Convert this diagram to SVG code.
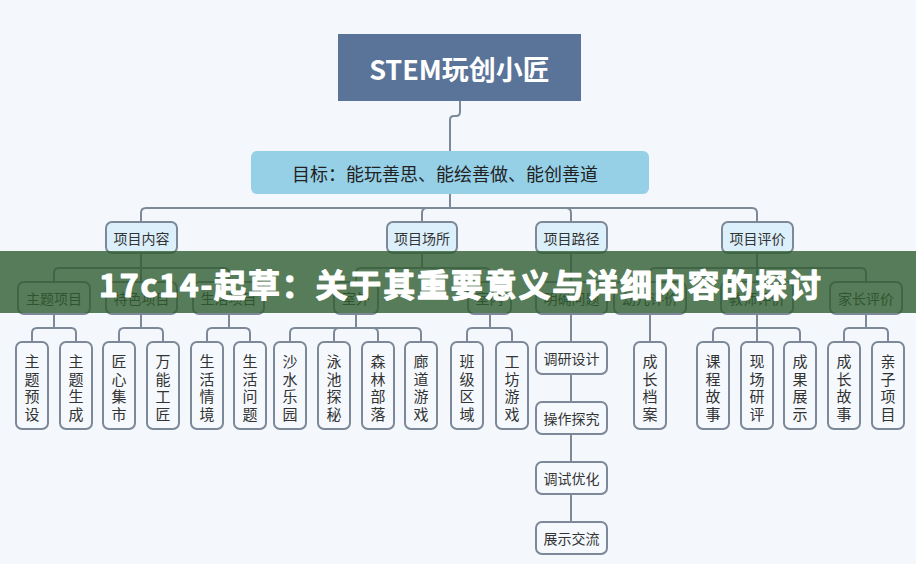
<svg xmlns="http://www.w3.org/2000/svg" width="916" height="564" viewBox="0 0 916 564">
<style>
text{font-family:"Noto Sans CJK SC","Noto Sans",sans-serif;fill:#333;}
.n rect{fill:#f5f9fd;stroke:#7d8898;stroke-width:2;}
.l1 rect{fill:#dcf0fb;}
.t14{font-size:14px;text-anchor:middle;dominant-baseline:central;}
.v{font-size:15px;text-anchor:middle;dominant-baseline:central;}
.c path{fill:none;stroke:#7d8898;stroke-width:2;}
</style>
<rect width="916" height="564" fill="#f4f8fc"/>
<g class="c" id="connectors">
<path d="M460,101 V112 Q460,116 456,116 H454 Q450,116 450,120 V151"/>
<path d="M450,194 V208 H146 Q141,208 141,213 V222"/>
<path d="M450,194 V208 H427 Q422,208 422,213 V222"/>
<path d="M450,194 V208 H566 Q571,208 571,213 V222"/>
<path d="M450,194 V208 H752 Q757,208 757,213 V222"/>
<path d="M141,253 V268 H59 Q54,268 54,273 V282"/>
<path d="M141,253 V282"/>
<path d="M141,253 V268 H224 Q229,268 229,273 V282"/>
<path d="M422,253 V268 H361 Q356,268 356,273 V282"/>
<path d="M422,253 V268 H485 Q490,268 490,273 V282"/>
<path d="M571,253 V282"/>
<path d="M757,253 V268 H655 Q650,268 650,273 V282"/>
<path d="M757,253 V282"/>
<path d="M757,253 V268 H861 Q866,268 866,273 V282"/>
<path d="M54,314 V328 H37 Q32,328 32,333 V342"/>
<path d="M54,314 V328 H71 Q76,328 76,333 V342"/>
<path d="M141,314 V328 H124 Q119,328 119,333 V342"/>
<path d="M141,314 V328 H158 Q163,328 163,333 V342"/>
<path d="M229,314 V328 H212 Q207,328 207,333 V342"/>
<path d="M229,314 V328 H245 Q250,328 250,333 V342"/>
<path d="M356,314 V328 H295 Q290,328 290,333 V342"/>
<path d="M356,314 V328 H339 Q334,328 334,333 V342"/>
<path d="M356,314 V328 H373 Q378,328 378,333 V342"/>
<path d="M356,314 V328 H416 Q421,328 421,333 V342"/>
<path d="M490,314 V328 H472 Q467,328 467,333 V342"/>
<path d="M490,314 V328 H507 Q512,328 512,333 V342"/>
<path d="M571,314 V342"/>
<path d="M571,374 V402"/>
<path d="M571,434 V462"/>
<path d="M571,494 V522"/>
<path d="M650,314 V342"/>
<path d="M757,314 V328 H718 Q713,328 713,333 V342"/>
<path d="M757,314 V342"/>
<path d="M757,314 V328 H795 Q800,328 800,333 V342"/>
<path d="M866,314 V328 H849 Q844,328 844,333 V342"/>
<path d="M866,314 V328 H883 Q888,328 888,333 V342"/>
</g>
<g id="root"><rect x="338" y="34" width="243" height="67" fill="#5a7399"/><text x="459.5" y="68" font-size="27" font-weight="bold" text-anchor="middle" dominant-baseline="central" style="fill:#fff">STEM玩创小匠</text></g>
<g id="goal"><rect x="251" y="151" width="398" height="43" rx="6" fill="#95d0e7"/><text x="445" y="172.5" font-size="18" text-anchor="middle" dominant-baseline="central" style="fill:#222">目标：能玩善思、能绘善做、能创善道</text></g>
<g id="n-xmnr" class="n l1"><rect x="106" y="222" width="71" height="31" rx="6"/><text class="t14" x="141.5" y="237.5">项目内容</text></g>
<g id="n-xmcs" class="n l1"><rect x="387" y="222" width="70" height="31" rx="6"/><text class="t14" x="422" y="237.5">项目场所</text></g>
<g id="n-xmlj" class="n l1"><rect x="536" y="222" width="71" height="31" rx="6"/><text class="t14" x="571.5" y="237.5">项目路径</text></g>
<g id="n-xmpj" class="n l1"><rect x="722" y="222" width="71" height="31" rx="6"/><text class="t14" x="757.5" y="237.5">项目评价</text></g>
<g id="n-ztxm" class="n"><rect x="18" y="282" width="72" height="32" rx="6"/><text class="t14" x="54" y="298">主题项目</text></g>
<g id="n-tsxm" class="n"><rect x="106" y="282" width="71" height="32" rx="6"/><text class="t14" x="141.5" y="298">特色项目</text></g>
<g id="n-shxm" class="n"><rect x="193" y="282" width="71" height="32" rx="6"/><text class="t14" x="228.5" y="298">生活项目</text></g>
<g id="n-sw" class="n"><rect x="334" y="282" width="44" height="32" rx="6"/><text class="t14" x="356" y="298">室外</text></g>
<g id="n-sn" class="n"><rect x="468" y="282" width="43" height="32" rx="6"/><text class="t14" x="489.5" y="298">室内</text></g>
<g id="n-mqwt" class="n"><rect x="536" y="282" width="71" height="32" rx="6"/><text class="t14" x="571.5" y="298">明确问题</text></g>
<g id="n-yepj" class="n"><rect x="614" y="282" width="72" height="32" rx="6"/><text class="t14" x="650" y="298">幼儿评价</text></g>
<g id="n-jspj" class="n"><rect x="721" y="282" width="72" height="32" rx="6"/><text class="t14" x="757" y="298">教师评价</text></g>
<g id="n-jzpj" class="n"><rect x="830" y="282" width="72" height="32" rx="6"/><text class="t14" x="866" y="298">家长评价</text></g>
<g id="n-dysj" class="n"><rect x="536" y="342" width="71" height="32" rx="6"/><text class="t14" x="571.5" y="358">调研设计</text></g>
<g id="n-czta" class="n"><rect x="536" y="402" width="71" height="32" rx="6"/><text class="t14" x="571.5" y="418">操作探究</text></g>
<g id="n-dsyh" class="n"><rect x="536" y="462" width="71" height="32" rx="6"/><text class="t14" x="571.5" y="478">调试优化</text></g>
<g id="n-zsjl" class="n"><rect x="536" y="522" width="71" height="32" rx="6"/><text class="t14" x="571.5" y="538">展示交流</text></g>
<g id="n-v1" class="n"><rect x="16" y="342" width="32" height="87" rx="6"/><text class="v"><tspan x="32" y="360">主</tspan><tspan x="32" y="377.7">题</tspan><tspan x="32" y="395.3">预</tspan><tspan x="32" y="413">设</tspan></text></g>
<g id="n-v2" class="n"><rect x="60" y="342" width="32" height="87" rx="6"/><text class="v"><tspan x="76" y="360">主</tspan><tspan x="76" y="377.7">题</tspan><tspan x="76" y="395.3">生</tspan><tspan x="76" y="413">成</tspan></text></g>
<g id="n-v3" class="n"><rect x="103" y="342" width="32" height="87" rx="6"/><text class="v"><tspan x="119" y="360">匠</tspan><tspan x="119" y="377.7">心</tspan><tspan x="119" y="395.3">集</tspan><tspan x="119" y="413">市</tspan></text></g>
<g id="n-v4" class="n"><rect x="147" y="342" width="32" height="87" rx="6"/><text class="v"><tspan x="163" y="360">万</tspan><tspan x="163" y="377.7">能</tspan><tspan x="163" y="395.3">工</tspan><tspan x="163" y="413">匠</tspan></text></g>
<g id="n-v5" class="n"><rect x="191" y="342" width="32" height="87" rx="6"/><text class="v"><tspan x="207" y="360">生</tspan><tspan x="207" y="377.7">活</tspan><tspan x="207" y="395.3">情</tspan><tspan x="207" y="413">境</tspan></text></g>
<g id="n-v6" class="n"><rect x="234" y="342" width="32" height="87" rx="6"/><text class="v"><tspan x="250" y="360">生</tspan><tspan x="250" y="377.7">活</tspan><tspan x="250" y="395.3">问</tspan><tspan x="250" y="413">题</tspan></text></g>
<g id="n-v7" class="n"><rect x="274" y="342" width="32" height="87" rx="6"/><text class="v"><tspan x="290" y="360">沙</tspan><tspan x="290" y="377.7">水</tspan><tspan x="290" y="395.3">乐</tspan><tspan x="290" y="413">园</tspan></text></g>
<g id="n-v8" class="n"><rect x="318" y="342" width="32" height="87" rx="6"/><text class="v"><tspan x="334" y="360">泳</tspan><tspan x="334" y="377.7">池</tspan><tspan x="334" y="395.3">探</tspan><tspan x="334" y="413">秘</tspan></text></g>
<g id="n-v9" class="n"><rect x="362" y="342" width="32" height="87" rx="6"/><text class="v"><tspan x="378" y="360">森</tspan><tspan x="378" y="377.7">林</tspan><tspan x="378" y="395.3">部</tspan><tspan x="378" y="413">落</tspan></text></g>
<g id="n-v10" class="n"><rect x="405" y="342" width="32" height="87" rx="6"/><text class="v"><tspan x="421" y="360">廊</tspan><tspan x="421" y="377.7">道</tspan><tspan x="421" y="395.3">游</tspan><tspan x="421" y="413">戏</tspan></text></g>
<g id="n-v11" class="n"><rect x="451" y="342" width="32" height="87" rx="6"/><text class="v"><tspan x="467" y="360">班</tspan><tspan x="467" y="377.7">级</tspan><tspan x="467" y="395.3">区</tspan><tspan x="467" y="413">域</tspan></text></g>
<g id="n-v12" class="n"><rect x="496" y="342" width="32" height="87" rx="6"/><text class="v"><tspan x="512" y="360">工</tspan><tspan x="512" y="377.7">坊</tspan><tspan x="512" y="395.3">游</tspan><tspan x="512" y="413">戏</tspan></text></g>
<g id="n-v13" class="n"><rect x="634" y="342" width="32" height="87" rx="6"/><text class="v"><tspan x="650" y="360">成</tspan><tspan x="650" y="377.7">长</tspan><tspan x="650" y="395.3">档</tspan><tspan x="650" y="413">案</tspan></text></g>
<g id="n-v14" class="n"><rect x="697" y="342" width="32" height="87" rx="6"/><text class="v"><tspan x="713" y="360">课</tspan><tspan x="713" y="377.7">程</tspan><tspan x="713" y="395.3">故</tspan><tspan x="713" y="413">事</tspan></text></g>
<g id="n-v15" class="n"><rect x="741" y="342" width="32" height="87" rx="6"/><text class="v"><tspan x="757" y="360">现</tspan><tspan x="757" y="377.7">场</tspan><tspan x="757" y="395.3">研</tspan><tspan x="757" y="413">评</tspan></text></g>
<g id="n-v16" class="n"><rect x="784" y="342" width="32" height="87" rx="6"/><text class="v"><tspan x="800" y="360">成</tspan><tspan x="800" y="377.7">果</tspan><tspan x="800" y="395.3">展</tspan><tspan x="800" y="413">示</tspan></text></g>
<g id="n-v17" class="n"><rect x="828" y="342" width="32" height="87" rx="6"/><text class="v"><tspan x="844" y="360">成</tspan><tspan x="844" y="377.7">长</tspan><tspan x="844" y="395.3">故</tspan><tspan x="844" y="413">事</tspan></text></g>
<g id="n-v18" class="n"><rect x="872" y="342" width="32" height="87" rx="6"/><text class="v"><tspan x="888" y="360">亲</tspan><tspan x="888" y="377.7">子</tspan><tspan x="888" y="395.3">项</tspan><tspan x="888" y="413">目</tspan></text></g>
<g id="banner"><rect x="0" y="251" width="916" height="62" fill="#305c30" opacity="0.8"/><text x="460" y="283" font-size="32" font-weight="bold" text-anchor="middle" dominant-baseline="central" textLength="722" lengthAdjust="spacing" stroke="#fff" stroke-width="1.2" stroke-linejoin="round" style="fill:#fff">17c14-起草：关于其重要意义与详细内容的探讨</text></g>
</svg>
